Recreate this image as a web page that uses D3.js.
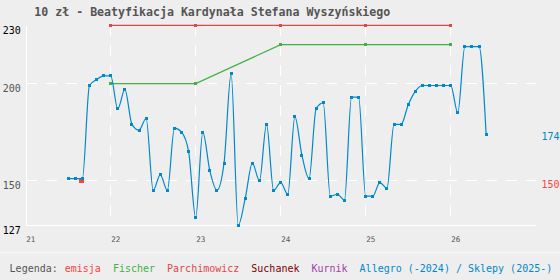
<!DOCTYPE html>
<meta charset="utf-8">
<style>
  body { margin: 0; background: #eeeeee; }
  text { font-family: "DejaVu Sans Mono", monospace; }
</style>
<body>
<script src="https://cdn.jsdelivr.net/npm/d3@7"></script>
<script>

var title = "10 zł - Beatyfikacja Kardynała Stefana Wyszyńskiego";

// years on the x axis (20xx)
var yearTicks = [21, 22, 23, 24, 25, 26];
var valueTicks = [127, 150, 200, 230];

// emisja (issue price)
var emisjaDate = [21.655];
var emisjaValue = [150];

// dealers, one price a year
var dealerYears = [22, 23, 24, 25, 26];
var fischer = [200, 200, 220, 220, 220];
var parchimowicz = [230, 230, 230, 230, 230];

// Allegro / Sklepy, monthly from July 2021
var allegroStart = 21 + 6 / 12;
var allegro = [151, 151, 151, 199, 202, 204, 204, 187, 197, 179, 176, 182,
               145, 153, 145, 177, 175, 165, 131, 175, 155, 145, 159, 205,
               127, 141, 159, 150, 179, 145, 149, 143, 183, 163, 151, 187,
               190, 142, 143, 140, 193, 193, 142, 142, 149, 146, 179, 179,
               189, 196, 199, 199, 199, 199, 199, 185, 219, 219, 219, 174];

var legendNames = ["emisja", "Fischer", "Parchimowicz", "Suchanek", "Kurnik", "Allegro (-2024) / Sklepy (2025-)"];
var legendColors = ["#ff4040", "#44b044", "#e04848", "#800000", "#a040a8", "#0088cc"];

var width = 560, height = 280;
var x = d3.scaleLinear().domain([21, 27]).range([25.7, 535.7]);
var y = d3.scaleLinear().domain([127, 230]).range([225.3, 25.3]);

var svg = d3.select("body").append("svg")
  .attr("width", width)
  .attr("height", height);

svg.append("rect").attr("width", width).attr("height", height).attr("fill", "#eeeeee");
svg.append("line")
  .attr("x1", 0).attr("x2", width).attr("y1", 252.5).attr("y2", 252.5)
  .attr("stroke", "#f6f6f6").attr("stroke-width", 2);

// title
svg.append("text")
  .attr("x", 34.3).attr("y", 15.5)
  .attr("font-size", 11.6).attr("font-weight", "bold")
  .attr("fill", "#555")
  .text(title);

// grid
svg.selectAll(".vgrid").data(yearTicks.slice(1)).enter().append("line")
  .attr("x1", function(d){ return x(d); }).attr("x2", function(d){ return x(d); })
  .attr("y1", y(230)).attr("y2", y(127))
  .attr("stroke", "#fff").attr("stroke-dasharray", "11,9")
  .attr("shape-rendering", "crispEdges");

svg.selectAll(".hgrid").data([150, 200]).enter().append("line")
  .attr("x1", x(21)).attr("x2", x(27))
  .attr("y1", function(d){ return y(d); }).attr("y2", function(d){ return y(d); })
  .attr("stroke", "#fff").attr("stroke-dasharray", "11,9")
  .attr("shape-rendering", "crispEdges");

// axes
var xAxis = svg.append("g")
  .attr("transform", "translate(0," + y(127) + ")")
  .call(d3.axisBottom(x).tickValues(yearTicks).tickSize(0).tickFormat(d3.format("d")));
xAxis.select(".domain").attr("stroke", "#fff").attr("shape-rendering", "crispEdges");
xAxis.selectAll("text")
  .attr("y", 16.5).attr("dy", null)
  .attr("text-anchor", "start")
  .attr("font-size", 7.6)
  .attr("font-family", "DejaVu Sans Mono")
  .attr("fill", "#555");

var yAxis = svg.append("g")
  .attr("transform", "translate(" + x(21) + ",0)")
  .call(d3.axisLeft(y).tickValues(valueTicks).tickSize(0).tickPadding(5));
yAxis.select(".domain").attr("stroke", "#fff").attr("shape-rendering", "crispEdges");
yAxis.selectAll("text")
  .attr("dy", "0.78em")
  .attr("x", -5)
  .attr("font-size", 10)
  .attr("font-family", "DejaVu Sans Mono")
  .attr("fill", function(d){ return (d == 230 || d == 127) ? "#000" : "#555"; });

function drawSeries(xs, vals, color, curve, size) {
  var pts = vals.map(function(v, i){ return [xs[i], v]; });
  var line = d3.line()
    .x(function(d){ return x(d[0]); })
    .y(function(d){ return y(d[1]); })
    .curve(curve);
  svg.append("path")
    .attr("d", line(pts))
    .attr("fill", "none")
    .attr("stroke", color)
    .attr("stroke-width", 1.2);
  svg.selectAll(null).data(pts).enter().append("rect")
    .attr("x", function(d){ return Math.round(x(d[0]) - size / 2); })
    .attr("y", function(d){ return Math.round(y(d[1]) - size / 2); })
    .attr("width", size).attr("height", size)
    .attr("fill", color)
    .attr("shape-rendering", "crispEdges");
}

drawSeries(dealerYears, parchimowicz, legendColors[2], d3.curveLinear, 3);
drawSeries(dealerYears, fischer, legendColors[1], d3.curveLinear, 3);

var allegroX = allegro.map(function(v, i){ return allegroStart + i / 12; });
drawSeries(emisjaDate, emisjaValue, legendColors[0], d3.curveLinear, 5);
drawSeries(allegroX, allegro, legendColors[5], d3.curveMonotoneX, 3);

// values at the right edge
var lastAllegro = allegro[allegro.length - 1];
svg.append("text")
  .attr("x", 541.5).attr("y", y(lastAllegro) + 6)
  .attr("font-size", 10).attr("fill", legendColors[5])
  .text(lastAllegro);
svg.append("text")
  .attr("x", 541.5).attr("y", y(emisjaValue[0]) + 7.5)
  .attr("font-size", 10).attr("fill", legendColors[0])
  .text(emisjaValue[0]);

// legend
var lx = 9.6;
var lab = svg.append("text")
  .attr("x", lx).attr("y", 271.5)
  .attr("font-size", 10).attr("fill", "#555")
  .text("Legenda:");
lx += lab.node().getComputedTextLength() + 7;
legendNames.forEach(function(name, i){
  var t = svg.append("text")
    .attr("x", lx).attr("y", 271.5)
    .attr("font-size", 10).attr("fill", legendColors[i])
    .text(name);
  lx += t.node().getComputedTextLength() + 12;
});

</script>
</body>
